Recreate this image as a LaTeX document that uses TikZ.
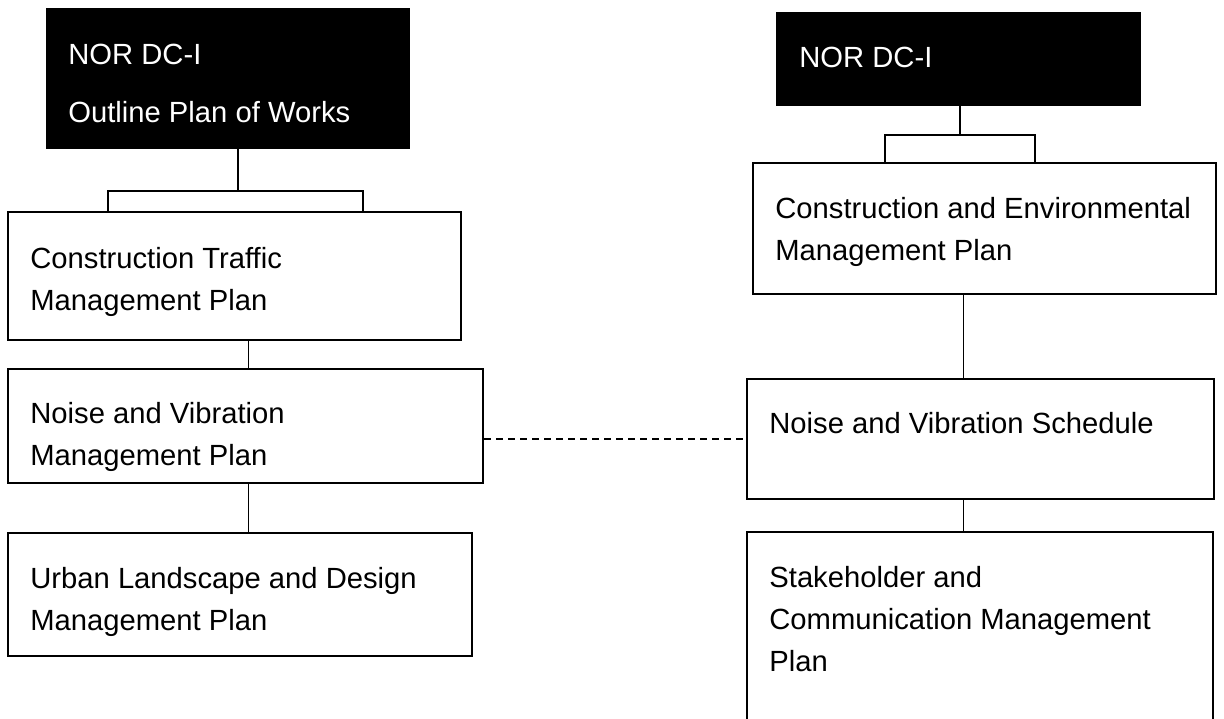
\documentclass[tikz,border=0pt]{standalone}
\usepackage{fontspec}
\setmainfont{Liberation Sans}
\usepackage{tikz}

\begin{document}
\begin{tikzpicture}[x=0.5pt,y=-0.5pt,
  plan/.style={draw,line width=1pt,rectangle,inner sep=0pt},
  head/.style={fill=black,draw=black,rectangle,inner sep=0pt},
  txt/.style={anchor=north west,inner sep=0pt,align=left,font=\fontsize{14.6}{21}\selectfont},
  link/.style={line width=0.5pt},
  brace/.style={line width=1pt}]
\useasboundingbox (0,0) rectangle (1224,718);

% left column
\node[head,minimum width=181.5pt,minimum height=70pt] (opw) at (227.5,78) {};
\node[plan,minimum width=226.5pt,minimum height=64pt] (ctmp) at (234.5,276) {};
\node[plan,minimum width=237.5pt,minimum height=57pt] (nvmp) at (245.5,426) {};
\node[plan,minimum width=232pt,minimum height=61.5pt] (ulm) at (240,594.5) {};

\node[txt,text=white,font=\fontsize{14.6}{29}\selectfont] (opwt) at (68,44) {NOR DC-I\\Outline Plan of Works};
\node[txt] (ctmpt) at (30,247) {Construction Traffic\\Management Plan};
\node[txt] (nvmpt) at (30,402) {Noise and Vibration\\Management Plan};
\node[txt] (ulmt) at (30,567) {Urban Landscape and Design\\Management Plan};

% right column
\node[head,minimum width=182pt,minimum height=46.5pt] (nor) at (958,58.5) {};
\node[plan,minimum width=231.5pt,minimum height=65.5pt] (cemp) at (984.5,228.5) {};
\node[plan,minimum width=233.5pt,minimum height=60pt] (nvs) at (980.5,439) {};
\node[plan,minimum width=233pt,minimum height=104pt] (scmp) at (980,636) {};

\node[txt,text=white] (nort) at (799,47) {NOR DC-I};
\node[txt] (cempt) at (775,197) {Construction and Environmental\\Management Plan};
\node[txt] (nvst) at (769,412) {Noise and Vibration Schedule};
\node[txt] (scmpt) at (769,566) {Stakeholder and\\Communication Management\\Plan};

% brackets
\coordinate (lj) at (238,191);
\coordinate (la) at (108,191);
\coordinate (lb) at (363,191);
\draw[brace] (opw.south -| lj) -- (lj);
\draw[brace] (ctmp.north -| la) |- (lb) -- (ctmp.north -| lb);

\coordinate (rj) at (960,135);
\coordinate (ra) at (885,135);
\coordinate (rb) at (1035,135);
\draw[brace] (nor.south -| rj) -- (rj);
\draw[brace] (cemp.north -| ra) |- (rb) -- (cemp.north -| rb);

% links
\coordinate (lx) at (248,0);
\coordinate (rx) at (963,0);
\draw[link] (ctmp.south -| lx) -- (nvmp.north -| lx);
\draw[link] (nvmp.south -| lx) -- (ulm.north -| lx);
\draw[link] (cemp.south -| rx) -- (nvs.north -| rx);
\draw[link] (nvs.south -| rx) -- (scmp.north -| rx);

\draw[line width=1pt,dash pattern=on 3.5pt off 2.5pt] (nvmp.east |- nvs.west) -- (nvs.west);
\end{tikzpicture}
\end{document}
